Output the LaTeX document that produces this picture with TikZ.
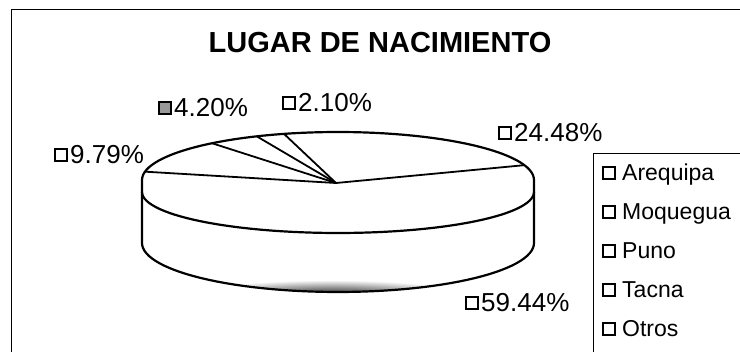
\documentclass[tikz,border=0pt]{standalone}
\usepackage{fontspec}
\setmainfont{Liberation Sans}
\usetikzlibrary{positioning}

\tikzset{
  rim/.style={black, line width=2.2pt, line join=round},
  piecut/.style={black, line width=1.8pt},
  keybox/.style={draw=black, line width=1.2pt, minimum size=12pt, inner sep=0pt},
  pctlabel/.style={font=\fontsize{26}{28}\selectfont, inner sep=0pt, anchor=base west},
  keylabel/.style={font=\fontsize{23}{25}\selectfont, inner sep=0pt, anchor=base west},
}

\begin{document}
\begin{tikzpicture}[x=1pt,y=-1pt]
        \useasboundingbox (0,0) rectangle (740,352);

        % Frame and legend box
        \draw[line width=1pt] (11,352) -- (11,10) -- (745,10);
        \draw[line width=1pt] (593,357) -- (593,154) -- (745,154);

        \node[font=\bfseries\fontsize{29}{32}\selectfont, anchor=base, inner sep=0pt] (title) at (380,53) {LUGAR DE NACIMIENTO};

        \coordinate (O) at (336,183);

        % Shadow under the pie
        \begin{scope}
            \clip plot[domain=180:360, samples=60] ({338+196*cos(\x)},{243-49*sin(\x)}) -- cycle;
            \shade[inner color=black, outer color=white] (330,297) ellipse [x radius=145pt, y radius=17pt];
        \end{scope}

        % Side of the pie
        \draw[rim] (142,180) -- plot[domain=180:360, samples=60] ({338+196*cos(\x)},{243-49*sin(\x)}) -- (534,180);

        % Top face
        \draw[rim] plot[domain=0:180, samples=60] ({338+196*cos(\x)},{180-48*sin(\x)});
        \draw[rim] plot[domain=180:360, samples=60] ({338+196*cos(\x)},{192-41*sin(\x)});

        % Slice cuts
        \foreach \a in {18,106,114.5,130,170}
            \draw[piecut] (O) -- ({338+196*cos(\a)},{180-48*sin(\a)});

        % Percent labels
        \foreach \nm/\x/\y/\txt/\shd in {a/505/133/24.48/white, b/289/103/2.10/white, c/165/108/4.20/black!40, d/61/155/9.79/white, e/472/303/59.44/white} {
            \node[keybox, fill=\shd] (box\nm) at (\x,\y) {};
            \node[pctlabel] (pct\nm) at (\x+9,\y+9) {\txt\%};
        }

        % Legend
        \foreach \txt [count=\i] in {Arequipa, Moquegua, Puno, Tacna, Otros} {
            \node[keybox] (key\i) at (609,{173+39*(\i-1)}) {};
            \node[keylabel] (name\i) at (622,{181+39*(\i-1)}) {\txt};
        }

    \end{tikzpicture}
\end{document}
